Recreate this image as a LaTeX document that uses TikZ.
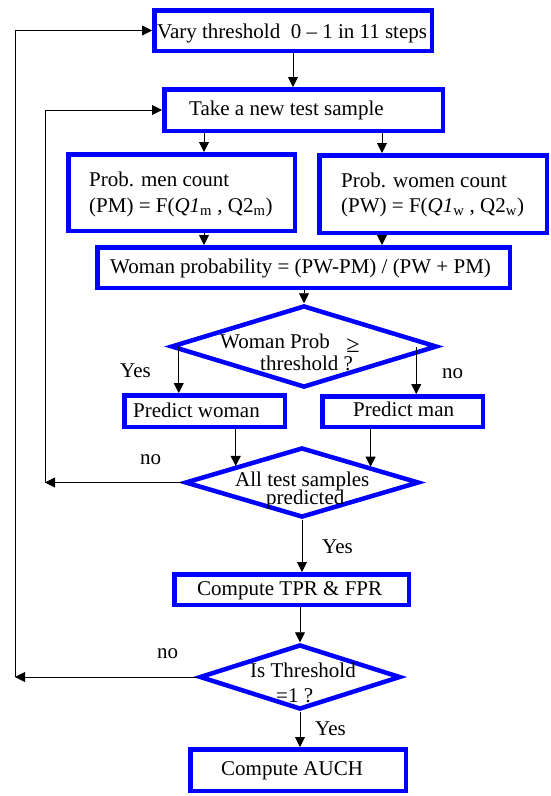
\documentclass[tikz,border=0pt]{standalone}
\usepackage{fontspec}
\setmainfont{Liberation Serif}
\usetikzlibrary{shapes.geometric,arrows.meta}
\begin{document}
\begin{tikzpicture}[x=1pt,y=-1pt,
  box/.style={draw=blue, line width=4.5pt, inner sep=0pt, rectangle},
  dia/.style={draw=blue, line width=4.5pt, diamond, inner sep=0pt},
  txt/.style={anchor=base west, inner sep=0pt, font=\fontsize{21}{25}\selectfont},
  sym/.style={anchor=center, inner sep=0pt, font=\fontsize{24}{26}\selectfont},
  arr/.style={-{Triangle[length=10pt,width=10pt]}, line width=0.9pt, black}]
\useasboundingbox (0,0) rectangle (551,796);

% boxes
\node[box, minimum width=277.5pt, minimum height=40.5pt] (b1) at (293,30.5) {};
\node[box, minimum width=278.5pt, minimum height=41.5pt] (b2) at (303.5,110) {};
\node[box, minimum width=226.5pt, minimum height=76.5pt] (b3) at (181.5,192.5) {};
\node[box, minimum width=227.5pt, minimum height=77.5pt] (b4) at (433,194) {};
\node[box, minimum width=412.5pt, minimum height=40.5pt] (b5) at (303.5,267.5) {};
\node[dia, minimum width=266pt, minimum height=82pt] (d1) at (304,346.5) {};
\node[box, minimum width=160.5pt, minimum height=31.5pt] (pw) at (204.5,411) {};
\node[box, minimum width=160.5pt, minimum height=30.5pt] (pm) at (402.5,411.5) {};
\node[dia, minimum width=234pt, minimum height=70pt] (d2) at (302,482.5) {};
\node[box, minimum width=234.5pt, minimum height=30.5pt] (tpr) at (291.5,589.5) {};
\node[dia, minimum width=201pt, minimum height=65pt] (d3) at (300,677) {};
\node[box, minimum width=215.5pt, minimum height=41.5pt] (auch) at (298,770) {};

% texts
\node[txt] (t1) at (157,38) {Vary threshold\ \ 0 -- 1 in 11 steps};
\node[txt] (t2) at (189,115) {Take a new test sample};
\node[txt] (t3a) at (89,186) {Prob. men count};
\node[txt] (t3b) at (89,212) {(PM) = F(\textit{Q1}\textsubscript{m} , Q2\textsubscript{m})};
\node[txt] (t4a) at (341,187) {Prob. women count};
\node[txt] (t4b) at (341,212) {(PW) = F(\textit{Q1}\textsubscript{w} , Q2\textsubscript{w})};
\node[txt] (t5) at (110,273) {Woman probability = (PW-PM) / (PW + PM)};
\node[txt] (t6a) at (220,348) {Woman Prob};
\node[txt] (t6b) at (260,370) {threshold ?};
\node[sym] (t6c) at (353,346) {≥};
\node[txt] (t7) at (133,417) {Predict woman};
\node[txt] (t8) at (353,416) {Predict man};
\node[txt] (t9a) at (235,486) {All test samples};
\node[txt] (t9b) at (266,504) {predicted};
\node[txt] (t10) at (197,595) {Compute TPR \& FPR};
\node[txt] (t11a) at (250,677) {Is Threshold};
\node[txt] (t11b) at (276,702) {=1 ?};
\node[txt] (t12) at (221,775) {Compute AUCH};

% labels
\node[txt] (l1) at (120,377) {Yes};
\node[txt] (l2) at (442,378) {no};
\node[txt] (l3) at (140,464) {no};
\node[txt] (l4) at (322,553) {Yes};
\node[txt] (l5) at (157,658) {no};
\node[txt] (l6) at (315,735) {Yes};

% helper x positions
\coordinate (xl) at (204,0);
\coordinate (xr) at (382,0);
\coordinate (xo) at (15,0);
\coordinate (xi) at (45,0);

% connectors
\draw[arr] (b1.south) -- (b1.south |- b2.north);
\draw[arr] (b2.south -| xl) -- (b3.north -| xl);
\draw[arr] (b2.south -| xr) -- (b4.north -| xr);
\draw[arr] (b3.south -| xl) -- (b5.north -| xl);
\draw[arr] (b4.south -| xr) -- (b5.north -| xr);
\draw[arr] (b5.south -| d1.north) -- (d1.north);
\draw[arr] ([xshift=10pt]d1.west) -- ([xshift=10pt]d1.west |- pw.north);
\draw[arr] ([xshift=-23pt]d1.east) -- ([xshift=-23pt]d1.east |- pm.north);
\draw[arr] (pw.south -| d2.166.5) -- (d2.166.5);
\draw[arr] (pm.south -| d2.13.5) -- (d2.13.5);
\draw[arr] (d2.south) -- (d2.south |- tpr.north);
\draw[arr] (tpr.south -| d3.north) -- (d3.north);
\draw[arr] (d3.south) -- (d3.south |- auch.north);
\draw[arr] (d2.west) -- (d2.west -| xi);
\draw[arr] (d2.west -| xi) |- (b2.west);
\draw[arr] (d3.west) -- (d3.west -| xo);
\draw[arr] (d3.west -| xo) |- (b1.west);
\end{tikzpicture}
\end{document}
